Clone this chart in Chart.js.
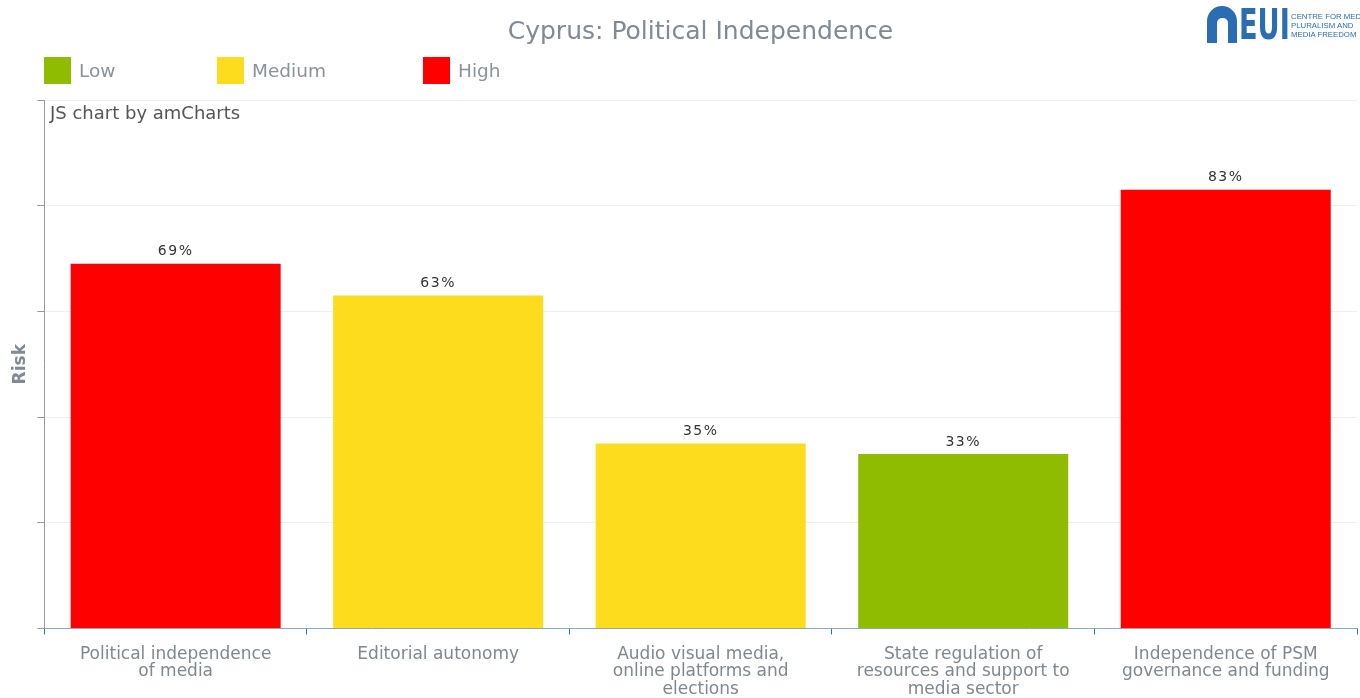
<!DOCTYPE html>
<html>
<head>
<meta charset="utf-8">
<script src="https://cdn.jsdelivr.net/npm/chart.js@4"></script>
<style>
  html, body { margin: 0; padding: 0; background: #fff; }
  #wrap { position: relative; width: 1360px; height: 698px; overflow: hidden; font-family: "DejaVu Sans", Verdana, sans-serif; }
  canvas { position: absolute; left: 0; top: 0; }
  #title { position: absolute; left: 44px; width: 1313px; top: 15px; text-align: center; font-size: 25px; line-height: 32px; color: #7f8a95; }
  .leg { position: absolute; top: 56px; height: 28px; display: flex; align-items: center; color: #8a939b; font-size: 18.5px; }
  .sw { width: 27px; height: 27px; margin-right: 8px; }
  #credit { position: absolute; left: 50px; top: 102px; font-size: 18px; color: #555; }
  #logo { position: absolute; left: 1200px; top: 0px; width: 160px; height: 48px; overflow: hidden; }
  #arch { position: absolute; left: 7px; top: 6px; width: 30px; height: 37px; background: #2a6db3; border-radius: 15px 15px 0 0; }
  #arch:after { content: ""; position: absolute; left: 10px; top: 12px; width: 11px; height: 25px; background: #fff; border-radius: 5px 5px 0 0; }
  #eui { position: absolute; left: 39px; top: 4px; font-size: 42px; font-weight: bold; color: #2a6db3; line-height: 42px; font-family: "Liberation Sans Narrow", "DejaVu Sans Condensed", sans-serif; transform: scaleX(0.72); transform-origin: left top; }
  #cmt { position: absolute; left: 91px; top: 12px; font-size: 7.8px; line-height: 9px; color: #2a6db3; white-space: nowrap; font-family: "Liberation Sans", sans-serif; }
</style>
</head>
<body>
<div id="wrap">
  <canvas id="c" width="1360" height="698"></canvas>
  <div id="title">Cyprus: Political Independence</div>
  <div class="leg" style="left:44px"><div class="sw" style="background:#8fbc00"></div>Low</div>
  <div class="leg" style="left:217px"><div class="sw" style="background:#fcdc1c"></div>Medium</div>
  <div class="leg" style="left:423px"><div class="sw" style="background:#ff0000"></div>High</div>
  <div id="credit">JS chart by amCharts</div>
  <div id="logo">
    <div id="arch"></div>
    <div id="eui">EUI</div>
    <div id="cmt">CENTRE FOR MEDIA<br>PLURALISM AND<br>MEDIA FREEDOM</div>
  </div>
</div>
<script>
const categories = [
  ["Political independence", "of media"],
  ["Editorial autonomy"],
  ["Audio visual media,", "online platforms and", "elections"],
  ["State regulation of", "resources and support to", "media sector"],
  ["Independence of PSM", "governance and funding"]
];
const riskValues = [69, 63, 35, 33, 83];
const riskLevels = ["High", "Medium", "Medium", "Low", "High"];
const levelColors = { Low: "#8fbc00", Medium: "#fcdc1c", High: "#ff0000" };

const valueLabels = {
  id: "valueLabels",
  afterDatasetsDraw(chart) {
    const ctx = chart.ctx;
    const meta = chart.getDatasetMeta(0);
    ctx.save();
    ctx.font = "14px 'DejaVu Sans', Verdana, sans-serif";
    ctx.letterSpacing = "1.5px";
    ctx.fillStyle = "#333";
    ctx.textAlign = "center";
    ctx.textBaseline = "bottom";
    meta.data.forEach((bar, i) => {
      ctx.fillText(riskValues[i] + "%", bar.x, bar.y - 5);
    });
    ctx.restore();
  }
};

new Chart(document.getElementById("c"), {
  type: "bar",
  data: {
    labels: categories,
    datasets: [{
      data: riskValues,
      backgroundColor: riskLevels.map(l => levelColors[l]),
      borderWidth: 0,
      categoryPercentage: 0.8,
      barPercentage: 1.0
    }]
  },
  options: {
    responsive: false,
    animation: false,
    devicePixelRatio: 1,
    layout: { padding: { left: 6, right: 3, top: 100, bottom: -11 } },
    plugins: {
      legend: { display: false },
      tooltip: { enabled: false },
      title: { display: false }
    },
    scales: {
      x: {
        grid: { drawOnChartArea: false, tickLength: 6, tickColor: "#3f6f9f", offset: true },
        border: { color: "#8aa8c6", width: 1 },
        ticks: {
          color: "#7f8890",
          font: { family: "'DejaVu Sans', Verdana, sans-serif", size: 17, lineHeight: 1.03 },
          padding: 11,
          maxRotation: 0,
          autoSkip: false
        }
      },
      y: {
        min: 0, max: 100,
        ticks: { display: false, stepSize: 20 },
        grid: { color: "#eeeeee", tickColor: "#999999", tickLength: 7 },
        border: { color: "#999999", width: 1 },
        title: {
          display: true,
          text: "Risk",
          color: "#7f8a95",
          font: { family: "'DejaVu Sans', Verdana, sans-serif", size: 17, weight: "bold" },
          padding: { top: 4, bottom: 7 }
        }
      }
    }
  },
  plugins: [valueLabels]
});
</script>
</body>
</html>
